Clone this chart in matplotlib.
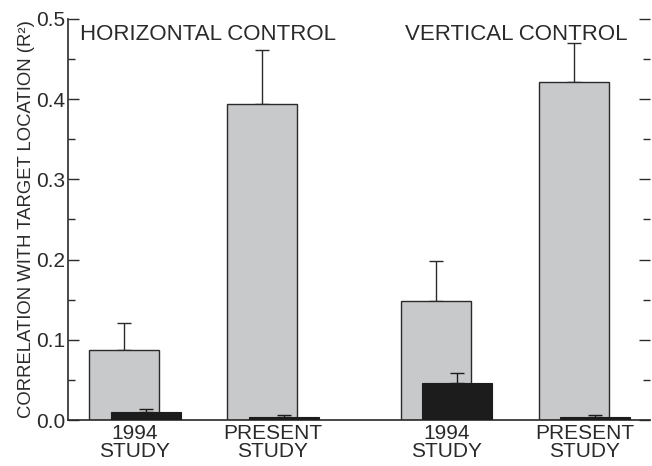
import matplotlib
matplotlib.use('Agg')
import matplotlib.pyplot as plt
from matplotlib.ticker import MultipleLocator

plt.rcParams['font.family'] = ['Liberation Sans', 'DejaVu Sans']

# Daten
conditions = ['1994\nSTUDY', 'PRESENT\nSTUDY', '1994\nSTUDY', 'PRESENT\nSTUDY']
gray_vals = [0.087, 0.394, 0.149, 0.421]
gray_err = [0.034, 0.067, 0.049, 0.049]
black_vals = [0.010, 0.004, 0.046, 0.004]
black_err = [0.004, 0.002, 0.013, 0.002]
group_titles = ['HORIZONTAL CONTROL', 'VERTICAL CONTROL']

# Layout
pos = [0.8, 2.77, 5.25, 7.22]
off = 0.31
width = 1.0

fig = plt.figure(figsize=(6.52, 4.66), dpi=100)
ax = fig.add_axes([68 / 652, 1 - 420 / 466, (650 - 68) / 652, (420 - 19) / 466])

gx = pos
bx = [p + off for p in pos]
ax.bar(gx, gray_vals, width=width, color='#c8c9cb', edgecolor='#2a2a2a', linewidth=1.0, zorder=2)
ax.errorbar(gx, gray_vals, yerr=[[0] * 4, gray_err], fmt='none', ecolor='#2a2a2a',
            elinewidth=1.0, capsize=5, capthick=1.0, zorder=1)
ax.bar(bx, black_vals, width=width, color='#1c1c1c', edgecolor='#1c1c1c', linewidth=0.8, zorder=4)
ax.errorbar(bx, black_vals, yerr=[[0] * 4, black_err], fmt='none', ecolor='#1c1c1c',
            elinewidth=1.0, capsize=5, capthick=1.0, zorder=3)

ax.set_xlim(0, 8.31)
ax.set_ylim(0, 0.5)
ax.yaxis.set_major_locator(MultipleLocator(0.1))
ax.yaxis.set_minor_locator(MultipleLocator(0.05))
ax.yaxis.set_major_formatter(plt.FormatStrFormatter('%.1f'))

ax.spines['top'].set_visible(False)
ax.spines['right'].set_visible(False)
ax.spines['left'].set_linewidth(1.2)
ax.spines['bottom'].set_linewidth(1.2)
ax.spines['left'].set_color('#2a2a2a')
ax.spines['bottom'].set_color('#2a2a2a')

ax.tick_params(axis='y', which='both', direction='in', right=True, colors='#2a2a2a',
               labelsize=15, pad=2, width=1.0)
ax.tick_params(axis='y', which='major', length=8)
ax.tick_params(axis='y', which='minor', length=5)

ax.set_xticks([p + off / 2 for p in pos])
ax.set_xticklabels(conditions, fontsize=15, linespacing=0.9)
ax.tick_params(axis='x', length=0, pad=3, colors='#2a2a2a')

ax.set_ylabel('CORRELATION WITH TARGET LOCATION (R²)', fontsize=13.3, color='#2a2a2a', labelpad=1)

ax.text(0.17, 0.494, group_titles[0], fontsize=16, color='#2a2a2a', va='top', ha='left')
ax.text(4.81, 0.494, group_titles[1], fontsize=16, color='#2a2a2a', va='top', ha='left')

fig.savefig('out.png', dpi=100)
